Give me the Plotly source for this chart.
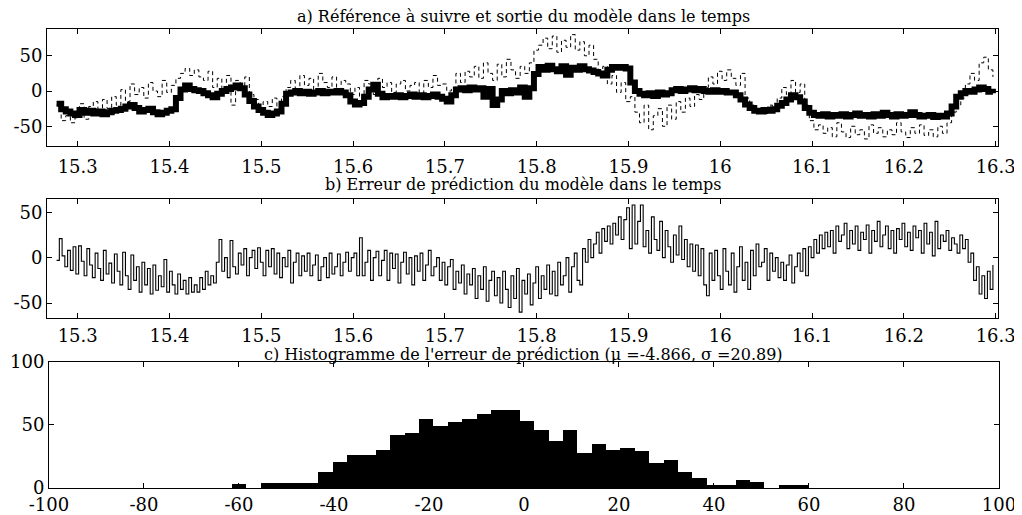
import plotly.graph_objects as go

# time base (same sampling for the three time signals, x built by plotly from x0/dx)
t_start = 15.277
err_dt = 0.003
sig_dt = 0.005

# b) prediction error
prediction_error = [
    -3, 21, 2, -10, 8, -14, 12, -18, 13, -4,
    -20, 10, -8, -22, 5, -12, -25, 8, -18, -6,
    -28, 4, -15, -30, 6, -20, -35, 3, -25, -10,
    -38, -5, -30, -12, -40, -8, -36, -20, -32, -2,
    -38, -15, -30, -40, -18, -35, -25, -40, -22, -38,
    -30, -38, -22, -35, -15, -30, -20, -28, -5, 20,
    -15, 0, -22, 19, -10, -18, 5, -8, 10, -20,
    0, 8, -12, 11, -5, -20, 8, -10, 10, -18,
    5, -22, 0, -10, 8, -28, -5, 5, -20, 2,
    -15, 5, -20, -8, 3, -25, -10, 0, -22, 5,
    -18, -10, 4, -20, -5, 6, -15, 0, 5, -20,
    22, -20, -5, 8, -25, 0, 7, -20, -3, 8,
    -25, 5, -12, 4, -28, -5, 6, -18, 0, -30,
    2, -15, 5, -25, -8, 8, -20, -10, 0, -25,
    -5, -30, -10, -2, -35, -15, -28, -8, -40, -18,
    -30, -12, -45, -20, -35, -10, -48, -25, -15, -42,
    -22, -50, -15, -35, -55, -20, -45, -12, -60, -25,
    -40, -18, -52, -28, -10, -45, -20, -35, -8, -40,
    -15, -42, -5, -30, -20, 0, -38, -10, 5, -25,
    -30, 10, -5, 20, 0, 15, 28, 5, 32, 18,
    35, 15, 38, 25, 45, 20, 42, 55, 10, 58,
    15, 40, 58, 12, 30, 5, 45, 20, 8, 40,
    0, 30, 12, -5, 25, 3, 35, -2, 20, -10,
    15, -15, 14, -20, 10, -30, -42, 5, -25, 8,
    -20, -35, 10, -15, -30, 5, -38, -10, 12, -25,
    -5, -35, 8, -20, 15, -10, -5, 10, -25, 5,
    -15, 0, -22, -5, -25, -8, 3, -28, -10, 5,
    -15, 10, -20, 12, 0, 20, 5, 25, 10, 28,
    12, 30, 5, 35, 18, 25, 38, 10, 30, 15,
    35, 8, 28, 20, 36, 5, 30, 18, 40, 12,
    25, 35, 10, 30, 5, 32, 20, 38, 12, 28,
    8, 35, 22, 30, 5, 38, 15, 28, 2, 40,
    10, 25, 18, 30, 8, 22, 15, 5, 25, 10,
    20, -5, 5, -25, -10, -40, -20, -45, -15, -35,
    -8,
]

# a) model output (thick) and reference (dashed)
model_output = [
    -18, -26, -29, -32, -34, -27, -31, -28, -32, -29,
    -33, -30, -28, -27, -25, -22, -20, -24, -29, -27,
    -25, -30, -33, -31, -28, -26, -10, 2, 8, 3,
    1, 0, -3, -6, -9, -4, 0, 3, 5, 8,
    4, -5, -14, -22, -27, -31, -34, -32, -29, -18,
    -4, -2, 0, -3, -1, -4, -2, 0, -3, -1,
    -2, 0, -2, -6, -15, -19, -17, -8, 2, 9,
    -4, -9, -7, -8, -6, -9, -7, -5, -8, -6,
    -9, -7, -5, -8, -11, -15, -6, 2, 4, 1,
    5, 2, 4, -8, 3, -20, -12, 0, -3, 1,
    -2, 5, -8, 4, 24, 34, 30, 36, 31, 28,
    35, 23, 33, 30, 35, 31, 29, 27, 25, 22,
    30, 34, 33, 34, 32, 12, 0, -4, -6, -3,
    -7, -2, -5, -3, 1, 3, 0, 2, 4, 1,
    3, 0, -1, 1, -1, 0, -2, -2, -6, -12,
    -19, -24, -28, -29, -27, -28, -26, -21, -17, -12,
    -6, -9, -15, -24, -31, -34, -35, -33, -36, -34,
    -35, -33, -36, -34, -32, -35, -34, -36, -33, -35,
    -31, -34, -36, -33, -35, -34, -30, -34, -36, -35,
    -34, -37, -35, -36, -32, -22, -8, -3, 0, -1,
    2, 5, 3, -1, -3,
]

reference = [
    -20, -42, -35, -45, -38, -18, -40, -22, -15, -30,
    -12, -25, -8, -20, 2, -15, 10, -5, 5, -10,
    12, 0, -8, 15, -2, 8, 18, 25, 32, 22,
    30, 20, 15, 28, 5, 18, -2, 22, -20, 15,
    8, 20, -5, -12, -25, -15, -22, -10, -28, -8,
    5, 15, -5, 22, 8, 18, 0, 25, 12, 5,
    20, -2, 15, 10, -5, 5, -10, 15, 10, -5,
    18, 5, 12, -2, 10, 15, 0, 8, 12, -3,
    15, 5, 22, 8, 10, 0, 5, 25, 12, 28,
    20, 35, 18, 40, 25, 15, 38, 20, 45, 30,
    18, 35, 25, 40, 58, 65, 75, 60, 78, 55,
    72, 62, 80, 58, 70, 50, 65, 45, 25, 35,
    10, 22, -2, 12, -15, -8, -30, -45, -20, -55,
    -35, -25, -50, -20, -40, -15, -30, -10, -22, -5,
    -12, 5, 20, 10, 28, 15, 30, 18, 8, 25,
    -10, -20, -30, -25, -32, -20, -28, -10, 5, -5,
    15, -2, 10, -20, -42, -55, -48, -60, -52, -65,
    -45, -58, -66, -50, -62, -55, -68, -48, -60, -52,
    -65, -55, -62, -45, -58, -66, -52, -60, -48, -63,
    -55, -65, -50, -60, -45, -30, -20, -10, 10, 25,
    15, 40, 48, 30, 20,
]

# c) histogram of the prediction error (40 bins)
hist_first_center = -59.985
hist_bin_width = 3.03
hist_counts = [
    3, 0, 4, 4, 4, 4, 13, 21, 26, 26,
    30, 42, 44, 55, 49, 52, 55, 59, 62, 62,
    53, 46, 37, 46, 28, 35, 30, 32, 29, 20,
    22, 13, 8, 2, 2, 6, 5, 0, 2, 2,
]

title_a = "a) Référence à suivre et sortie du modèle dans le temps"
title_b = "b) Erreur de prédiction du modèle dans le temps"
title_c = "c) Histogramme de l'erreur de prédiction (μ =-4.866, σ =20.89)"

time_ticks = [15.3, 15.4, 15.5, 15.6, 15.7, 15.8, 15.9, 16.0, 16.1, 16.2, 16.3]
time_labels = ["15.3", "15.4", "15.5", "15.6", "15.7", "15.8", "15.9", "16", "16.1", "16.2", "16.3"]
err_ticks = [-50, 0, 50]
err_labels = ["-50", "0", "50"]
count_ticks = [0, 50, 100]
bin_ticks = [-100, -80, -60, -40, -20, 0, 20, 40, 60, 80, 100]
bin_labels = ["-100", "-80", "-60", "-40", "-20", "0", "20", "40", "60", "80", "100"]

FONT = "DejaVu Serif"

fig = go.Figure()

fig.add_trace(go.Scatter(
    x0=t_start, dx=sig_dt, y=reference, mode="lines", line_shape="hv",
    line=dict(color="black", width=1, dash="4px,3px"), xaxis="x", yaxis="y",
))
fig.add_trace(go.Scatter(
    x0=t_start, dx=sig_dt, y=model_output, mode="lines", line_shape="hv",
    line=dict(color="black", width=6), xaxis="x", yaxis="y",
))
fig.add_trace(go.Scatter(
    x0=t_start, dx=err_dt, y=prediction_error, mode="lines", line_shape="hv",
    line=dict(color="black", width=1.1), xaxis="x2", yaxis="y2",
))
fig.add_trace(go.Bar(
    x0=hist_first_center, dx=hist_bin_width, y=hist_counts, width=hist_bin_width,
    marker=dict(color="black", line=dict(width=0)), xaxis="x3", yaxis="y3",
))

ax = dict(
    showgrid=False, zeroline=False, showline=True, linecolor="black", linewidth=1,
    mirror="ticks", ticks="inside", ticklen=5, tickcolor="black", automargin=False,
    tickfont=dict(family=FONT, size=18, color="black"),
)

# the page puts the figure 8 px in from the top-left corner, so it is 8 px smaller
x_dom = [0.0385, 0.9763]
fig.update_layout(
    width=1014, height=507, margin=dict(l=0, r=0, t=0, b=0),
    paper_bgcolor="white", plot_bgcolor="white", showlegend=False, bargap=0,
    xaxis=dict(ax, domain=x_dom, range=[15.2666, 16.3025], anchor="y",
               tickvals=time_ticks, ticktext=time_labels, ticklabelstandoff=4),
    yaxis=dict(ax, domain=[0.7278, 0.9586], range=[-78, 88], anchor="x",
               tickvals=err_ticks, ticktext=err_labels),
    xaxis2=dict(ax, domain=x_dom, range=[15.2666, 16.3025], anchor="y2",
                tickvals=time_ticks, ticktext=time_labels, ticklabelstandoff=1),
    yaxis2=dict(ax, domain=[0.3886, 0.6233], range=[-66.5, 64.7], anchor="x2",
                tickvals=err_ticks, ticktext=err_labels),
    xaxis3=dict(ax, domain=[0.0404, 0.9773], range=[-100, 100], anchor="y3",
                tickvals=bin_ticks, ticktext=bin_labels),
    yaxis3=dict(ax, domain=[0.0533, 0.3018], range=[0, 100], anchor="x3",
                tickvals=count_ticks),
)

for text, y in [(title_a, 0.984), (title_b, 0.651), (title_c, 0.317)]:
    fig.add_annotation(
        text=text, x=0.508, y=y, xref="paper", yref="paper", showarrow=False,
        xanchor="center", yanchor="middle",
        font=dict(family=FONT, size=16, color="black"),
    )

fig.write_html("out.html")
